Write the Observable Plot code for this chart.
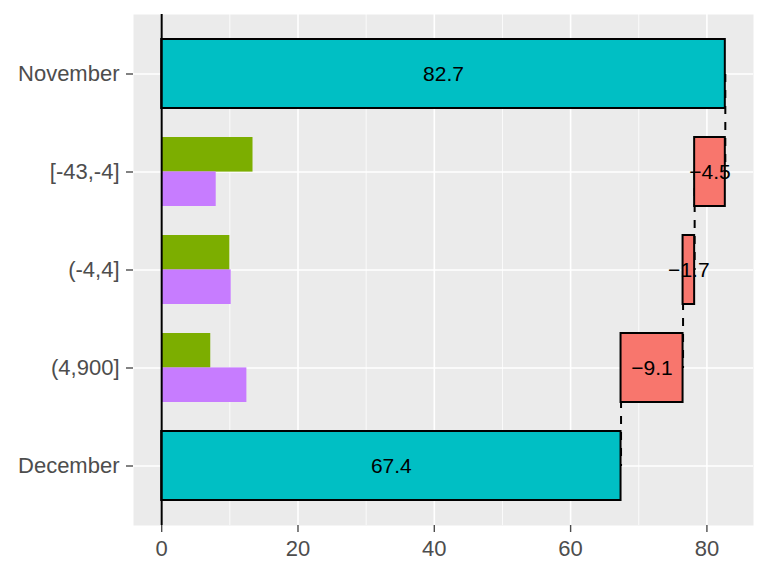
<!DOCTYPE html>
<html><head><meta charset="utf-8">
<script src="https://cdn.jsdelivr.net/npm/d3@7"></script>
<script src="https://cdn.jsdelivr.net/npm/@observablehq/plot@0.6"></script>
<style>body{margin:0;background:#fff}</style>
</head><body><div id="chart"></div>
<script>
const categories = ["November", "[-43,-4]", "(-4,4]", "(4,900]", "December"];
const changes = [82.7, -4.5, -1.7, -9.1, 67.4]; // first and last are totals
const labels = ["82.7", "\u22124.5", "\u22121.7", "\u22129.1", "67.4"];
const bins = ["[-43,-4]", "(-4,4]", "(4,900]"];
const greenValues = [13.4, 10.0, 7.2];
const purpleValues = [8.0, 10.2, 12.5];
const xTicks = [0, 20, 40, 60, 80];
const xMinorTicks = [10, 30, 50, 70];

let run = 0;
const steps = categories.map((c, i) => {
  let start, end, kind;
  if (i === 0) { start = 0; end = changes[0]; run = end; kind = "total"; }
  else if (i === categories.length - 1) { start = 0; end = changes[i]; kind = "total"; }
  else { start = run; end = run + changes[i]; run = end; kind = "change"; }
  return {cat: c, start, end, kind, label: labels[i], mid: (start + end) / 2};
});
const connectors = steps.slice(0, -1).map((s, i) => ({from: s.cat, to: steps[i + 1].cat, x: s.end}));
const green = bins.map((b, i) => ({cat: b, v: greenValues[i]}));
const purple = bins.map((b, i) => ({cat: b, v: purpleValues[i]}));

const W = 768, H = 576, mT = 14, mB = 51, mL = 133, mR = 15;
const step = (H - mT - mB) / 5.2;
const half = 0.35 * step;
const xmax = d3.max(steps, d => d.end);
const pad = 0.05 * xmax;

const chart = Plot.plot({
  width: W, height: H,
  marginTop: mT, marginBottom: mB, marginLeft: mL, marginRight: mR,
  style: {fontFamily: "Liberation Sans, Arial, sans-serif", background: "white"},
  x: {domain: [-pad, xmax + pad], label: null},
  y: {domain: categories, paddingInner: 0.3, paddingOuter: 0.25, label: null},
  color: {domain: ["total", "change"], range: ["#00BFC4", "#F8766D"]},
  marks: [
    Plot.frame({fill: "#EBEBEB", stroke: "none"}),
    Plot.gridX(xMinorTicks, {stroke: "white", strokeOpacity: 1, strokeWidth: 0.8}),
    Plot.gridX(xTicks, {stroke: "white", strokeOpacity: 1, strokeWidth: 1.6}),
    Plot.gridY(categories, {stroke: "white", strokeOpacity: 1, strokeWidth: 1.6}),
    Plot.link(connectors, {x1: "x", x2: "x", y1: "from", y2: "to", stroke: "black", strokeWidth: 2, strokeDasharray: "8,8"}),
    Plot.barX(green, {x1: 0, x2: "v", y: "cat", fill: "#7CAE00", insetBottom: half}),
    Plot.barX(purple, {x1: 0, x2: "v", y: "cat", fill: "#C77CFF", insetTop: half}),
    Plot.barX(steps, {x1: "start", x2: "end", y: "cat", fill: "kind", stroke: "black", strokeWidth: 2}),
    Plot.ruleX([0], {stroke: "black", strokeWidth: 2}),
    Plot.text(steps, {x: "mid", y: "cat", text: "label", fontSize: 21, fill: "black"}),
    Plot.axisX({ticks: xTicks, tickSize: 7, tickPadding: 8, fontSize: 22, color: "#4D4D4D", strokeWidth: 1.4, label: null}),
    Plot.axisY({tickSize: 7, tickPadding: 7, fontSize: 22, color: "#4D4D4D", strokeWidth: 1.4, label: null})
  ]
});
document.getElementById("chart").appendChild(chart);
</script>
</body></html>
